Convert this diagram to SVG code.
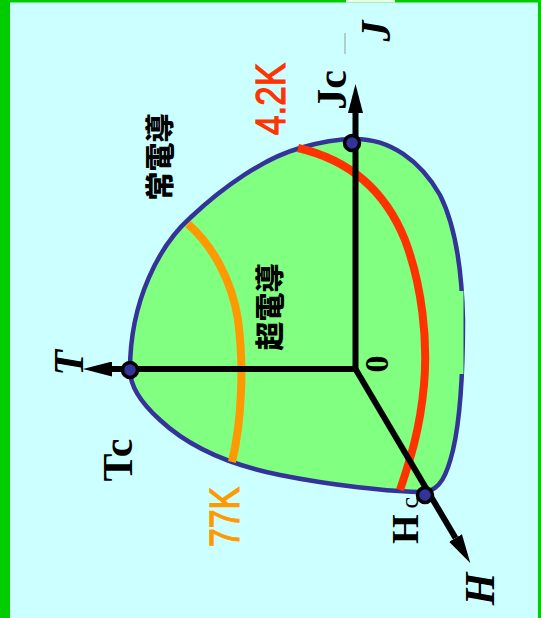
<svg xmlns="http://www.w3.org/2000/svg" width="541" height="618" viewBox="0 0 541 618">
<style>
.serif{font-family:"Liberation Serif","Times New Roman",serif;font-weight:bold;fill:#000}
.it{font-style:italic}
.sans{font-family:"Liberation Sans",Arial,sans-serif;stroke-width:1.2}
.cjk{font-family:"Noto Sans CJK JP","Noto Sans CJK SC",sans-serif;font-weight:900;fill:#000;font-size:29px}
.axis{stroke:#000;stroke-width:6;fill:none}
.pt{fill:#333399;stroke:#000;stroke-width:3.5}
</style>
<defs>
<marker id="arr" viewBox="0 0 29 15" refX="0" refY="7.5" markerWidth="29" markerHeight="15" markerUnits="userSpaceOnUse" orient="auto">
<path d="M0,0 L29,7.5 L0,15 Z" fill="#000"/>
</marker>
</defs>
<rect x="0" y="0" width="541" height="618" fill="#CCFFFF"/>
<rect x="0" y="0" width="10" height="618" fill="#00CC00"/>
<rect x="0" y="0" width="541" height="2.5" fill="#00CC00"/>
<rect x="346" y="0" width="49" height="2.5" fill="#E6FFE6"/>
<rect x="538" y="0" width="3" height="618" fill="#00CC00"/>

<g id="region">
<path d="M130,370 C130,300 160,245 190,218 C225,185 265,158 300,148 C320,142 340,139 355,139 C390,139 420,160 440,195 C455,225 462,270 463,320 C463,370 460,420 453,450 C447,475 440,490 425,492 C390,492 330,485 280,475 C230,465 190,448 160,420 C140,402 130,385 130,370 Z" fill="#80FF80" stroke="#333399" stroke-width="4.5"/>
<rect x="456" y="291" width="7.5" height="83" fill="#80FF80"/>
</g>

<g id="curve-77K">
<path d="M188,224 C212,245 232,280 238,320 C244,365 242,420 232,462" fill="none" stroke="#FF9900" stroke-width="8"/>
<text class="sans" transform="translate(239,517) rotate(-90)" text-anchor="middle" font-size="43" fill="#FF9900" stroke="#FF9900" textLength="60" lengthAdjust="spacingAndGlyphs">77K</text>
</g>

<g id="curve-4.2K">
<path d="M298,148 C350,160 385,190 405,240 C422,285 428,340 424,385 C420,430 410,460 400,490" fill="none" stroke="#FF3300" stroke-width="8"/>
<text class="sans" transform="translate(285,99) rotate(-90)" text-anchor="middle" font-size="42" fill="#FF3300" stroke="#FF3300" textLength="72" lengthAdjust="spacingAndGlyphs">4.2K</text>
</g>

<g id="connectors">
<path class="axis" d="M357,369 L112,369" marker-end="url(#arr)"/>
<path class="axis" d="M355.5,372 L355.5,113" marker-end="url(#arr)"/>
<path class="axis" d="M355.5,369 L455.5,538" marker-end="url(#arr)"/>
</g>

<g id="point-Tc"><circle class="pt" cx="130" cy="370" r="7.5"/></g>
<g id="point-Jc"><circle class="pt" cx="352" cy="143" r="7.5"/></g>
<g id="point-Hc"><circle class="pt" cx="425" cy="495" r="7.5"/></g>

<g id="labels">
<text class="cjk" transform="translate(157.5,157) rotate(-90)" text-anchor="middle" dominant-baseline="central">常電導</text>
<text class="cjk" transform="translate(267.5,307) rotate(-90)" text-anchor="middle" dominant-baseline="central">超電導</text>
<text class="serif" transform="translate(346,90) rotate(-90)" text-anchor="middle" font-size="42">Jc</text>
<text class="serif it" transform="translate(390,31) rotate(-90)" text-anchor="middle" font-size="42">J</text>
<line x1="345" y1="33" x2="345" y2="54" stroke="#999999" stroke-width="1"/>
<text class="serif it" transform="translate(83,363) rotate(-90)" text-anchor="middle" font-size="42">T</text>
<text class="serif" transform="translate(132,460) rotate(-90)" text-anchor="middle" font-size="42">Tc</text>
<text class="serif" transform="translate(418,544) rotate(-90)" font-size="38">H<tspan font-size="26" font-weight="normal" dx="6">c</tspan></text>
<text class="serif it" transform="translate(494,589) rotate(-90)" text-anchor="middle" font-size="42">H</text>
<text class="serif" transform="translate(388,364) rotate(-90)" text-anchor="middle" font-size="34">0</text>
</g>
</svg>
